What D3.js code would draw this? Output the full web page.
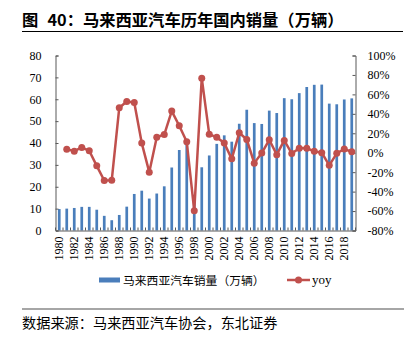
<!DOCTYPE html>
<html><head><meta charset="utf-8">
<script src="https://cdn.jsdelivr.net/npm/d3@7"></script>
<style>
body{margin:0;background:#fff;}
svg{display:block;}
</style></head>
<body>
<svg id="c" width="409" height="342"></svg>
<script>
const years = d3.range(1980, 2020).map(String);
const sales = [9.8,10.0,10.3,10.8,10.8,9.5,6.7,4.7,7.1,10.9,16.7,18.2,14.6,16.9,20.2,28.8,36.8,40.4,16.3,28.9,34.3,39.6,43.5,40.6,48.8,55.2,49.1,48.7,54.8,53.7,60.5,60.0,62.8,65.6,66.6,66.7,58.0,57.7,59.9,60.4];
const yoy = [null,3.7,1.6,5.4,2.0,-13.5,-28.6,-28.2,46.2,52.7,51.7,9.9,-20.0,16.0,18.7,42.8,27.7,11.2,-59.8,76.7,18.9,16.0,9.9,-6.3,20.5,13.6,-10.7,-0.4,13.3,-2.0,12.7,-0.8,4.6,4.5,1.6,0.03,-13.0,-0.6,3.8,0.9];
const leftTicks = [0,10,20,30,40,50,60,70,80];
const rightTicks = [-80,-60,-40,-20,0,20,40,60,80,100];
const xLabelYears = years.filter((d,i)=>i%2===0);
const titleHead = "图";
const titleBody = "40：马来西亚汽车历年国内销量（万辆）";
const source = "数据来源：马来西亚汽车协会，东北证券";
const seriesNames = ["马来西亚汽车销量（万辆）","yoy"];

const svg = d3.select("#c");
const L = 55.5, R = 355.5, T = 55.5, B = 230.5;
const serif = "'Liberation Serif','Times New Roman',serif";
const cjk = "'Noto Sans CJK SC',sans-serif";
const blue = "#4a7ebb", red = "#c0504d", axisC = "#595959";

const x = d3.scaleBand().domain(years).range([L, R]).padding(0);
const yL = d3.scaleLinear().domain([0,80]).range([B, T]);
const yR = d3.scaleLinear().domain([-80,100]).range([B, T]);

// title
const tt = svg.append("text").attr("y",25.5).attr("font-family",cjk).attr("font-weight","bold")
  .attr("font-size",16.3).attr("fill","#000");
tt.append("tspan").attr("x",22).text(titleHead);
tt.append("tspan").attr("x",47.5).text(titleBody);
svg.append("line").attr("x1",22).attr("x2",403).attr("y1",31.5).attr("y2",31.5).attr("stroke","#000").attr("stroke-width",1);

// bars
const bw = 2.7;
svg.append("g").selectAll("rect").data(sales).join("rect")
  .attr("x",(d,i)=>x(years[i])+x.bandwidth()/2-bw/2)
  .attr("y",d=>yL(d)).attr("width",bw).attr("height",d=>B-yL(d))
  .attr("fill",blue);

// axes
const gL = svg.append("g").attr("transform",`translate(${L},0)`)
  .call(d3.axisLeft(yL).tickValues(leftTicks).tickSize(-3).tickPadding(14));
const gR = svg.append("g").attr("transform",`translate(${R},0)`)
  .call(d3.axisRight(yR).tickValues(rightTicks).tickSize(-3).tickPadding(12).tickFormat(d=>d+"%"));
const gX = svg.append("g").attr("transform",`translate(0,${B})`)
  .call(d3.axisBottom(x).tickValues(xLabelYears).tickSize(0).tickPadding(0));
[gL,gR,gX].forEach(g=>{
  g.select(".domain").attr("stroke",axisC).attr("stroke-width",1);
  g.selectAll(".tick line").attr("stroke",axisC);
  g.selectAll("text").attr("font-family",serif).attr("font-size",12).attr("fill","#000");
});
gX.selectAll("text").attr("text-anchor","end").attr("dy","0.35em")
  .attr("transform","translate(0,6) rotate(-90)").attr("x",0).attr("y",0);
// x ticks between categories (inward)
svg.append("g").selectAll("line").data(years.concat(["end"])).join("line")
  .attr("x1",(d,i)=>L+i*x.step()).attr("x2",(d,i)=>L+i*x.step())
  .attr("y1",B).attr("y2",B-3).attr("stroke",axisC).attr("stroke-width",1);

// yoy line
const pts = yoy.map((v,i)=>({v,i})).filter(d=>d.v!==null);
const line = d3.line().x(d=>x(years[d.i])+x.bandwidth()/2).y(d=>yR(d.v));
svg.append("path").datum(pts).attr("d",line).attr("fill","none")
  .attr("stroke",red).attr("stroke-width",2.5).attr("stroke-linejoin","round");
svg.append("g").selectAll("circle").data(pts).join("circle")
  .attr("cx",d=>x(years[d.i])+x.bandwidth()/2).attr("cy",d=>yR(d.v)).attr("r",3.5).attr("fill",red);

// legend
const lg = svg.append("g");
lg.append("rect").attr("x",99).attr("y",277.5).attr("width",21).attr("height",5).attr("fill",blue);
lg.append("text").attr("x",123).attr("y",284.5).attr("font-family",cjk).attr("font-size",11.8).text(seriesNames[0]);
lg.append("line").attr("x1",287).attr("x2",310).attr("y1",280).attr("y2",280).attr("stroke",red).attr("stroke-width",2.5);
lg.append("circle").attr("cx",298.5).attr("cy",280).attr("r",3.5).attr("fill",red);
lg.append("text").attr("x",312).attr("y",284).attr("font-family",serif).attr("font-size",13).text(seriesNames[1]);

// source
svg.append("line").attr("x1",22).attr("x2",404).attr("y1",309).attr("y2",309).attr("stroke","#888").attr("stroke-width",1.5);
svg.append("text").attr("x",22).attr("y",327.5).attr("font-family",cjk).attr("font-size",14.2).attr("fill","#000").text(source);
</script>
</body></html>
